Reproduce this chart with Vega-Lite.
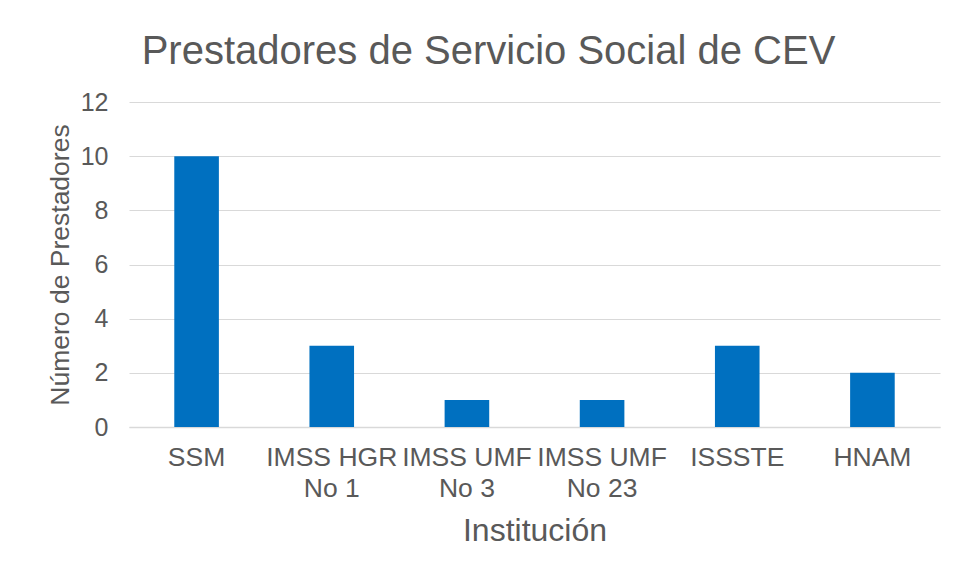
{
  "$schema": "https://vega.github.io/schema/vega-lite/v6.json",
  "autosize": {"type": "none"},
  "width": 811,
  "height": 325,
  "padding": {"left": 129, "top": 102, "right": 15, "bottom": 152},
  "background": "white",
  "title": {
    "text": "Prestadores de Servicio Social de CEV",
    "font": "Liberation Sans",
    "fontSize": 40,
    "fontWeight": "normal",
    "color": "#595959",
    "anchor": "middle",
    "baseline": "bottom",
    "offset": 32,
    "dy": 54,
    "dx": -46
  },
  "data": {
    "values": [
      {"institucion": "SSM", "prestadores": 10},
      {"institucion": "IMSS HGR No 1", "prestadores": 3},
      {"institucion": "IMSS UMF No 3", "prestadores": 1},
      {"institucion": "IMSS UMF No 23", "prestadores": 1},
      {"institucion": "ISSSTE", "prestadores": 3},
      {"institucion": "HNAM", "prestadores": 2}
    ]
  },
  "mark": {"type": "bar", "color": "#0070C0"},
  "encoding": {
    "x": {
      "field": "institucion",
      "type": "nominal",
      "sort": null,
      "scale": {"paddingInner": 0.67, "paddingOuter": 0.335},
      "axis": {
        "title": "Institución",
        "labelAngle": 0,
        "labelExpr": "indexof(datum.value, ' No ') > 0 ? [slice(datum.value, 0, indexof(datum.value, ' No ')), slice(datum.value, indexof(datum.value, ' No ') + 1)] : datum.value",
        "labelBaseline": "top",
        "labelLineHeight": 31,
        "labelPadding": 17,
        "labelFontSize": 26.5,
        "titleFontSize": 32,
        "titlePadding": 14,
        "ticks": false,
        "domainColor": "#d9d9d9",
        "domainWidth": 1.5
      }
    },
    "y": {
      "field": "prestadores",
      "type": "quantitative",
      "scale": {"domain": [0, 12]},
      "axis": {
        "title": "Número de Prestadores",
        "values": [0, 2, 4, 6, 8, 10, 12],
        "labelFontSize": 25,
        "labelPadding": 21,
        "titleFontSize": 26.5,
        "titlePadding": 6,
        "ticks": false,
        "domain": false,
        "gridColor": "#d9d9d9",
        "gridWidth": 1
      }
    }
  },
  "config": {
    "view": {"stroke": null},
    "axis": {
      "labelFont": "Liberation Sans",
      "titleFont": "Liberation Sans",
      "labelColor": "#595959",
      "titleColor": "#595959",
      "titleFontWeight": "normal"
    }
  }
}
